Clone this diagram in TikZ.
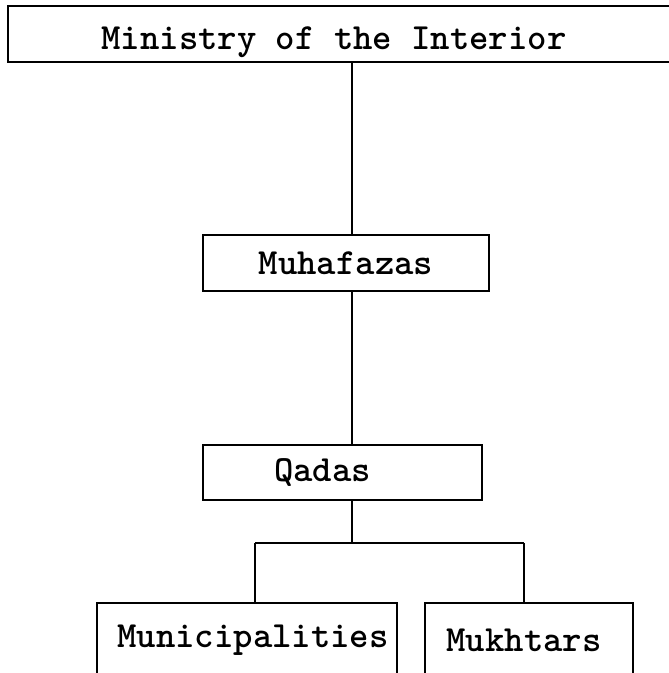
\documentclass[tikz,border=0pt]{standalone}
\usepackage{tikz}

\begin{document}
\begin{tikzpicture}[x=0.3mm,y=-0.3mm,line width=2.5pt,
  org/.style = {draw,rectangle,inner sep=0pt,font=\ttfamily\bfseries\fontsize{31.5}{34}\selectfont}]
\useasboundingbox (0,0) rectangle (668,673);
%cajas
\node (min) at (353,34)  [org,minimum width=207mm,minimum height=16.8mm] {\raisebox{-2.4mm}[\height][\depth]{Ministry of the Interior}\hspace*{11.4mm}};
\node (muh) at (346,263) [org,minimum width=85.8mm,minimum height=16.8mm] {Muhafazas};
\node (qad) at (342.5,472.5) [org,minimum width=83.7mm,minimum height=16.5mm] {Qadas\hspace*{12mm}};
\node (mun) at (247,640) [org,minimum width=90mm,minimum height=22.2mm] {\hspace*{3.6mm}Municipalities};
\node (muk) at (529,640) [org,minimum width=62.4mm,minimum height=22.2mm] {Mukhtars\hspace*{3mm}};
\coordinate (split) at (352,543);
\coordinate (lft) at (255,543);
\coordinate (rgt) at (524,543);
%lineas
\draw (split |- min.south) -- (split |- muh.north);
\draw (split |- muh.south) -- (split |- qad.north);
\draw (split |- qad.south) -- (split);
\draw (lft) -- (rgt);
\draw (lft) -- (lft |- mun.north);
\draw (rgt) -- (rgt |- muk.north);
\end{tikzpicture}
\end{document}
